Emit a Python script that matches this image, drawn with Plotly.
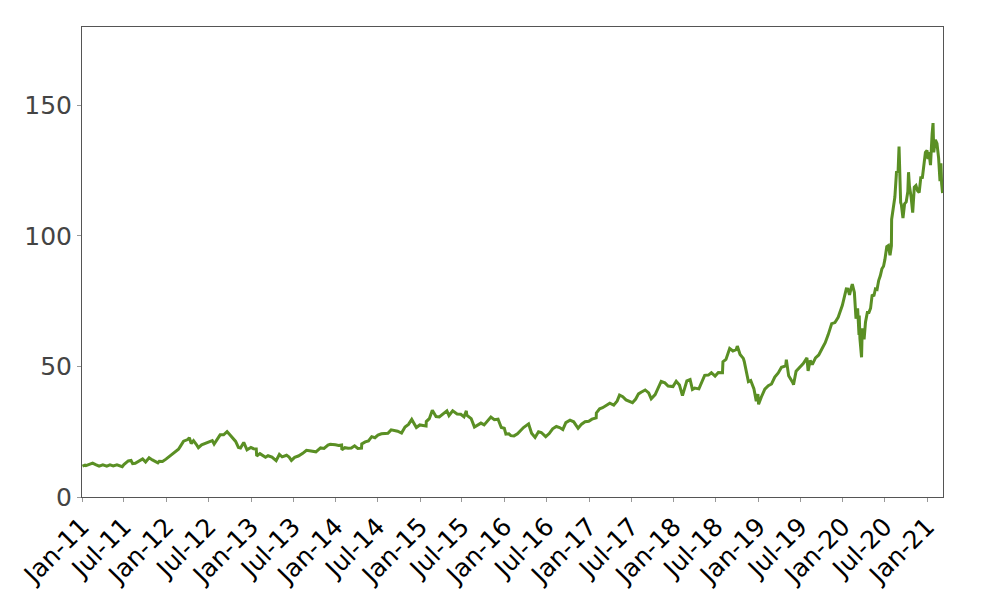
import plotly.graph_objects as go

dates_2011_2014 = [
    "2011-01-03", "2011-01-14", "2011-01-18", "2011-02-01", "2011-02-16", "2011-03-01", "2011-03-16",
    "2011-04-01", "2011-04-18", "2011-05-02", "2011-05-16", "2011-06-01", "2011-06-24", "2011-07-01",
    "2011-07-20", "2011-08-01", "2011-08-08", "2011-08-19", "2011-09-01", "2011-09-20", "2011-10-03",
    "2011-10-18", "2011-11-01", "2011-11-25", "2011-12-01", "2011-12-15", "2011-12-30",
    "2012-01-13", "2012-01-25", "2012-02-08", "2012-02-22", "2012-03-01", "2012-03-15", "2012-04-02",
    "2012-04-09", "2012-04-17", "2012-04-27", "2012-05-08", "2012-05-18", "2012-06-01", "2012-06-15",
    "2012-07-02", "2012-07-17", "2012-07-25", "2012-08-08", "2012-08-20", "2012-09-04", "2012-09-19",
    "2012-10-01", "2012-10-15", "2012-10-26", "2012-11-07", "2012-11-16", "2012-11-30", "2012-12-14",
    "2012-12-31",
    "2013-01-11", "2013-01-23", "2013-01-25", "2013-02-08", "2013-02-25", "2013-03-04", "2013-03-15",
    "2013-04-01", "2013-04-19", "2013-05-03", "2013-05-15", "2013-06-03", "2013-06-14", "2013-06-24",
    "2013-07-08", "2013-07-24", "2013-08-12", "2013-08-28", "2013-09-10", "2013-09-23", "2013-10-08",
    "2013-10-28", "2013-11-12", "2013-11-29", "2013-12-09", "2013-12-31",
    "2014-01-14", "2014-01-27", "2014-01-28", "2014-02-10", "2014-02-24", "2014-03-10", "2014-03-24",
    "2014-04-07", "2014-04-23", "2014-04-24", "2014-05-09", "2014-05-23", "2014-06-06", "2014-06-20",
    "2014-07-03", "2014-07-18", "2014-08-01", "2014-08-15", "2014-08-29", "2014-09-12", "2014-09-26",
    "2014-10-13", "2014-10-28", "2014-11-12", "2014-11-26", "2014-12-16", "2014-12-31",
]
prices_2011_2014 = [
    11.8, 12.2, 12.0, 12.4, 13.0, 12.4, 11.8,
    12.3, 11.8, 12.3, 11.9, 12.3, 11.6, 12.4,
    13.8, 14.0, 12.8, 12.9, 13.6, 14.6, 13.4,
    15.0, 14.2, 13.1, 13.7, 13.6, 14.5,
    15.4, 16.3, 17.4, 18.3, 19.4, 21.4, 22.0,
    22.7, 20.5, 21.6, 20.3, 18.9, 20.0, 20.5,
    21.1, 21.6, 20.3, 22.3, 23.8, 23.8, 25.0,
    23.8, 22.6, 21.3, 19.0, 18.8, 20.9, 18.1,
    19.0,
    18.5, 18.4, 15.7, 16.6, 15.8, 15.2, 15.8,
    15.3, 13.9, 16.3, 15.4, 16.0, 15.3, 14.0,
    15.2, 15.7, 16.7, 17.9, 17.7, 17.5, 17.3,
    18.8, 18.6, 19.9, 20.2, 20.0,
    19.7, 19.9, 18.1, 18.9, 18.7, 18.8, 19.6,
    18.6, 18.7, 20.3, 21.1, 21.5, 23.1, 22.7,
    23.7, 24.2, 24.2, 24.4, 25.7, 25.4, 25.2,
    24.5, 26.8, 27.8, 29.7, 26.6, 27.6,
]

dates_2015_2019 = [
    "2015-01-14", "2015-01-27", "2015-01-28", "2015-02-10", "2015-02-23", "2015-03-11", "2015-03-25",
    "2015-04-10", "2015-04-27", "2015-05-06", "2015-05-22", "2015-06-10", "2015-06-26", "2015-07-10",
    "2015-07-20", "2015-07-22", "2015-08-10", "2015-08-24", "2015-09-04", "2015-09-21", "2015-10-05",
    "2015-10-23", "2015-11-03", "2015-11-18", "2015-12-04", "2015-12-18", "2015-12-31",
    "2016-01-07", "2016-01-20", "2016-01-28", "2016-02-11", "2016-02-26", "2016-03-10", "2016-03-23",
    "2016-04-14", "2016-04-27", "2016-05-12", "2016-05-27", "2016-06-08", "2016-06-27", "2016-07-12",
    "2016-07-27", "2016-08-12", "2016-08-26", "2016-09-09", "2016-09-22", "2016-10-10", "2016-10-26",
    "2016-11-14", "2016-11-29", "2016-12-14", "2016-12-30",
    "2017-01-13", "2017-01-31", "2017-02-01", "2017-02-15", "2017-02-28", "2017-03-15", "2017-03-31",
    "2017-04-17", "2017-05-02", "2017-05-12", "2017-05-26", "2017-06-09", "2017-06-23", "2017-07-07",
    "2017-07-21", "2017-08-02", "2017-08-15", "2017-08-31", "2017-09-15", "2017-09-26", "2017-10-13",
    "2017-10-31", "2017-11-08", "2017-11-24", "2017-12-08", "2017-12-29",
    "2018-01-12", "2018-01-26", "2018-02-08", "2018-02-27", "2018-03-13", "2018-03-23", "2018-04-02",
    "2018-04-20", "2018-05-02", "2018-05-15", "2018-05-31", "2018-06-13", "2018-06-29", "2018-07-13",
    "2018-07-31", "2018-08-02", "2018-08-15", "2018-08-31", "2018-09-14", "2018-09-28", "2018-10-03",
    "2018-10-15", "2018-10-29", "2018-11-02", "2018-11-20", "2018-11-30", "2018-12-14", "2018-12-24",
    "2018-12-31",
    "2019-01-03", "2019-01-15", "2019-01-30", "2019-02-14", "2019-02-28", "2019-03-14", "2019-03-29",
    "2019-04-12", "2019-04-30", "2019-05-03", "2019-05-13", "2019-05-31", "2019-06-03", "2019-06-14",
    "2019-06-28", "2019-07-15", "2019-07-31", "2019-08-05", "2019-08-14", "2019-08-23", "2019-09-06",
    "2019-09-20", "2019-10-04", "2019-10-18", "2019-10-31", "2019-11-15", "2019-11-29", "2019-12-13",
    "2019-12-31",
]
prices_2015_2019 = [
    27.4, 27.2, 28.9, 30.0, 33.2, 30.8, 30.7,
    31.7, 33.0, 31.2, 33.0, 31.8, 31.7, 30.7,
    33.0, 31.3, 30.0, 26.8, 27.5, 28.3, 27.6,
    29.7, 30.6, 29.6, 29.8, 26.6, 26.3,
    24.1, 24.2, 23.5, 23.4, 24.2, 25.3, 26.6,
    28.0, 24.4, 22.8, 25.0, 24.7, 23.1, 24.3,
    26.1, 27.0, 26.6, 25.8, 28.5, 29.4, 28.8,
    26.3, 27.9, 28.8, 29.0,
    29.8, 30.3, 32.2, 33.8, 34.2, 35.1, 35.9,
    35.2, 36.8, 39.0, 38.4, 37.2, 36.6, 36.1,
    37.5, 39.5, 40.2, 41.0, 39.9, 37.6, 39.2,
    42.3, 44.3, 43.7, 42.5, 42.3,
    44.3, 42.9, 38.8, 44.5, 45.0, 41.2, 41.7,
    41.4, 44.2, 46.6, 46.7, 47.6, 46.3, 47.7,
    47.6, 51.8, 52.7, 56.9, 55.9, 56.4, 57.8,
    54.6, 53.1, 51.9, 44.2, 44.6, 41.4, 36.7,
    39.4,
    35.5, 38.3, 41.3, 42.6, 43.3, 45.9, 47.5,
    49.7, 50.2, 52.6, 46.4, 43.8, 43.0, 48.2,
    49.5, 51.1, 53.3, 48.3, 52.3, 50.7, 53.3,
    54.4, 56.8, 59.1, 62.2, 66.4, 66.8, 68.8,
    73.4,
]

dates_2020_2021 = [
    "2020-01-03", "2020-01-10", "2020-01-17", "2020-01-24", "2020-01-31", "2020-02-07", "2020-02-12",
    "2020-02-21", "2020-02-28", "2020-03-06", "2020-03-12", "2020-03-13", "2020-03-16", "2020-03-23",
    "2020-03-26", "2020-04-03", "2020-04-09", "2020-04-17", "2020-04-24", "2020-05-01", "2020-05-08",
    "2020-05-15", "2020-05-22", "2020-05-29", "2020-06-05", "2020-06-12", "2020-06-19", "2020-06-26",
    "2020-07-02", "2020-07-10", "2020-07-17", "2020-07-24", "2020-07-30", "2020-07-31", "2020-08-07",
    "2020-08-14", "2020-08-21", "2020-08-28", "2020-09-01", "2020-09-04", "2020-09-08", "2020-09-11",
    "2020-09-18", "2020-09-25", "2020-10-02", "2020-10-09", "2020-10-12", "2020-10-16", "2020-10-23",
    "2020-10-30", "2020-11-06", "2020-11-13", "2020-11-20", "2020-11-27", "2020-12-04", "2020-12-11",
    "2020-12-18", "2020-12-24", "2020-12-31",
    "2021-01-04", "2021-01-08", "2021-01-15", "2021-01-22", "2021-01-26", "2021-01-29", "2021-02-05",
    "2021-02-12", "2021-02-19", "2021-02-25", "2021-03-01", "2021-03-04", "2021-03-08",
]
prices_2020_2021 = [
    74.4, 77.6, 79.7, 79.6, 77.4, 80.0, 81.5,
    78.3, 68.3, 72.3, 62.1, 69.5, 60.6, 53.5,
    64.6, 60.4, 66.9, 70.7, 70.7, 72.3, 77.5,
    76.9, 79.7, 79.5, 82.9, 84.7, 87.4, 88.4,
    91.0, 95.9, 96.3, 92.6, 96.2, 106.3, 111.1,
    114.9, 124.4, 124.8, 134.2, 120.9, 112.8, 112.0,
    106.8, 112.3, 113.0, 117.0, 124.4, 119.0, 115.0,
    108.9, 118.7, 119.3, 117.3, 116.6, 122.3, 122.4,
    126.7, 132.0, 132.7,
    129.4, 132.1, 127.1, 139.1, 143.2, 132.0, 136.8,
    135.4, 129.9, 121.0, 127.8, 120.1, 116.4,
]

y_ticks = [0, 50, 100, 150]

dates = dates_2011_2014 + dates_2015_2019 + dates_2020_2021
prices = prices_2011_2014 + prices_2015_2019 + prices_2020_2021

fig = go.Figure()
fig.add_trace(go.Scatter(
    x=dates, y=prices, mode="lines",
    line=dict(color="#5a8f24", width=3),
    showlegend=False,
))

fig.update_layout(
    width=1000, height=600,
    margin=dict(l=74, r=65, t=19, b=111, autoexpand=False),
    paper_bgcolor="white", plot_bgcolor="white",
    font=dict(family="DejaVu Sans"),
)
fig.update_xaxes(
    type="date",
    range=["2011-01-01", "2021-03-10"],
    tick0="2011-01-01", dtick="M6", tickformat="%b-%y",
    tickangle=-45,
    tickfont=dict(size=25, color="black"),
    showgrid=False, zeroline=False,
    showline=True, linecolor="#555555", linewidth=1, mirror=True,
    ticks="outside", ticklen=4, tickcolor="#999999",
)
fig.update_yaxes(
    range=[0, 180],
    tickvals=y_ticks,
    tickfont=dict(size=25, color="#444444"),
    showgrid=False, zeroline=False,
    showline=True, linecolor="#555555", linewidth=1, mirror=True,
    ticks="outside", ticklen=4, tickcolor="#999999",
)

fig.write_html("out.html")
